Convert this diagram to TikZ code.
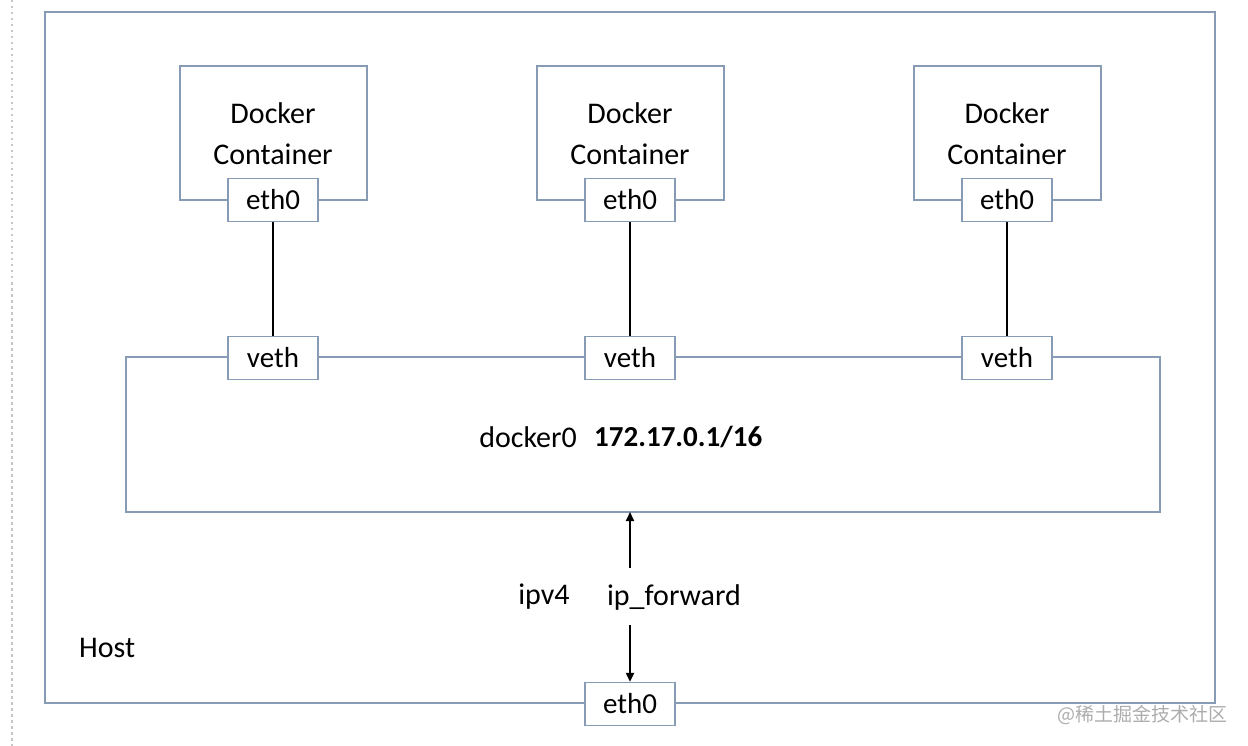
\documentclass[tikz,border=0pt]{standalone}
\usepackage{fontspec}
\setmainfont{Carlito}
\newfontfamily\cjk{Noto Sans CJK SC}
\usetikzlibrary{arrows.meta}
\definecolor{bx}{RGB}{135,155,180}
\begin{document}
\begin{tikzpicture}[x=1pt,y=-1pt,
  box/.style={draw=bx,line width=1.3pt,fill=white},
  lbl/.style={font=\fontsize{30}{41}\selectfont,inner sep=0pt},
  port/.style={box,minimum width=90pt,minimum height=43pt,font=\fontsize{29}{32}\selectfont,inner sep=0pt},
  link/.style={line width=2pt,black},
  arr/.style={line width=2pt,black,-{Triangle[length=9pt,width=8pt]}}]
\useasboundingbox (0,0) rectangle (1248,746);
\draw[gray!45,line width=2.5pt,dash pattern=on 2.5pt off 3.5pt] (12,0) -- (12,746);
\draw[box] (45,12) rectangle (1215,703);
\draw[box] (126,357) rectangle (1160,512);
\foreach \n/\x in {a/273,b/630,c/1007}{
  \draw[box] (\x-93,66) rectangle (\x+94,200);
  \node[lbl,align=center] (dc\n) at (\x,134) {Docker\\Container};
  \node[port] (e\n) at (\x,200) {eth0};
  \node[port] (v\n) at (\x,358) {veth};
  \draw[link] (e\n) -- (v\n);
}
\node[lbl,anchor=east] (d0) at (577,437) {docker0};
\node[lbl,anchor=west,font=\fontsize{29}{31}\selectfont\bfseries] (ip) at (594,437) {172.17.0.1/16};
\node[lbl] (ipv4) at (544,597) {ipv4};
\node[lbl] (ipf) at (674,597) {ip\_forward};
\node[port] (he) at (630,704) {eth0};
\coordinate (bt) at (630,512);
\coordinate (au) at (630,568);
\coordinate (ad) at (630,625);
\draw[arr] (au) -- (bt);
\draw[arr] (ad) -- (he.north);
\node[lbl,anchor=west] (host) at (79,648) {Host};
\node[anchor=east,text=gray!65,font=\cjk\fontsize{19}{22}\selectfont,inner sep=0pt] (wm) at (1228,715) {@稀土掘金技术社区};
\end{tikzpicture}
\end{document}
